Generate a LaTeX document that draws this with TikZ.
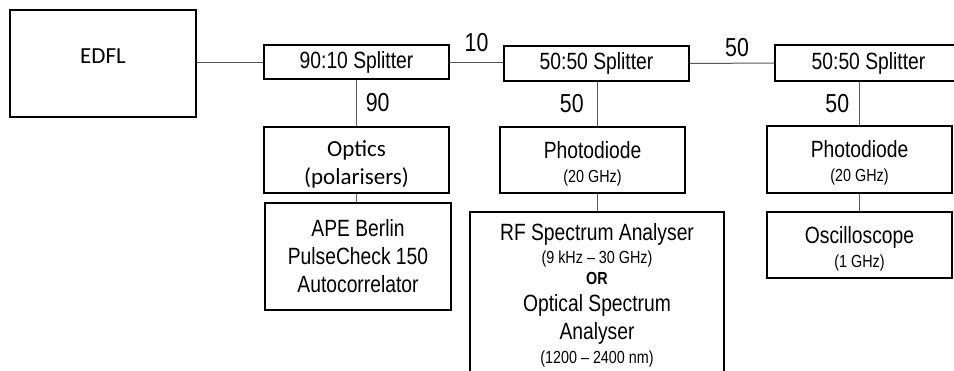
\documentclass[tikz,border=0pt]{standalone}
\usepackage{fontspec}
\setmainfont{Liberation Sans}
\newfontfamily\narrowsf[FakeStretch=0.82]{Liberation Sans}
\newfontfamily\calsf{Carlito}
\usetikzlibrary{positioning}
\newcommand{\spec}[1]{{\fontsize{17.5}{21}\selectfont #1}}
\newcommand{\hoch}{\rule{0pt}{24pt}}

\begin{document}
\begin{tikzpicture}[
            x=1pt, y=-1pt,
            kasten/.style={
                    draw,
                    rectangle,
                    line width=1.4pt,
                    minimum width=185pt,
                    minimum height=66pt,
                    inner sep=0pt,
                    align=center,
                    font=\narrowsf\fontsize{23.5}{28}\selectfont
                },
            teiler/.style={
                    kasten,
                    minimum height=34pt
                },
            leitung/.style={
                    draw,
                    color=black!65,
                    line width=1pt
                },
            anteil/.style={
                    font=\narrowsf\fontsize{26}{30}\selectfont,
                    color=black
                }
        ]
        \useasboundingbox (0,0) rectangle (954,370);

        \node[kasten, line width=2.2pt, minimum width=186pt, minimum height=107pt,
              font=\calsf\fontsize{23}{28}\selectfont] (edfl) at (103,63.5) {\raisebox{14pt}{EDFL}};
        \node[teiler] (split1) at (356.5,62) {90:10 Splitter};
        \node[teiler, minimum height=35pt] (split2) at (596.5,63.5) {50:50 Splitter};
        \node[teiler, minimum width=187pt, minimum height=36pt] (split3) at (868.5,63) {50:50 Splitter};

        \node[kasten, font=\calsf\fontsize{23}{28}\selectfont] (optics) at (356.5,160) {\hoch Optics\\(polarisers)};
        \node[kasten, minimum width=186pt, minimum height=107pt] (ape) at (358,256.5)
            {APE Berlin\\PulseCheck 150\\Autocorrelator};

        \node[kasten] (pd1) at (592.5,160) {\hoch Photodiode\\[-4pt]\spec{(20 GHz)}};
        \node[kasten, minimum width=254pt, minimum height=166pt] (rf) at (597,295)
            {RF Spectrum Analyser\\[-5pt]\spec{(9 kHz – 30 GHz)}\\[-7pt]\spec{\bfseries OR}\\[-1pt]Optical Spectrum\\Analyser\\[-4pt]\spec{(1200 – 2400 nm)}};

        \node[kasten, minimum height=67pt] (pd2) at (859.5,159.5) {\hoch Photodiode\\[-4pt]\spec{(20 GHz)}};
        \node[kasten] (osc) at (859.5,245) {\hoch Oscilloscope\\[-4pt]\spec{(1 GHz)}};

        \draw[leitung] (split1.west) -- (split1.west -| edfl.east);
        \draw[leitung] (split1.east) -- (split1.east -| split2.west) node[anteil, midway, above=6pt] (r10) {10};
        \draw[leitung] (split2.east) -- (split3.west) node[anteil, midway, above=3pt, xshift=5pt] (r50a) {50};

        \draw[leitung] (split1.south) -- (split1.south |- optics.north) node[anteil, midway, right=5.5pt] (r90) {90};
        \draw[leitung] (optics.south) -- (optics.south |- ape.north);

        \draw[leitung] (rf.north |- split2.south) -- (rf.north |- pd1.north) node[anteil, midway, left=9.5pt] (r50b) {50};
        \draw[leitung] (rf.north |- pd1.south) -- (rf.north);

        \draw[leitung] (pd2.north |- split3.south) -- (pd2.north) node[anteil, midway, left=6.5pt] (r50c) {50};
        \draw[leitung] (pd2.south) -- (osc.north);

    \end{tikzpicture}
\end{document}
